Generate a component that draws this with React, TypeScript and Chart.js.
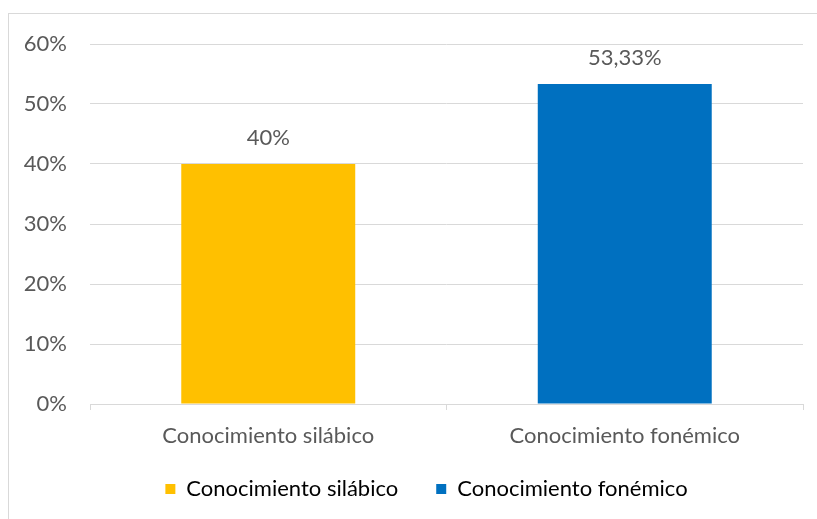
import React, { useEffect, useRef } from "react";
import { Chart, registerables } from "chart.js";

Chart.register(...registerables);

const categories = ["Conocimiento silábico", "Conocimiento fonémico"];
const values = [0.4, 0.5333];
const barColors = ["#FFC000", "#0070C0"];
const yTicks = [0, 0.1, 0.2, 0.3, 0.4, 0.5, 0.6];

const FONT = "Lato";
const FSIZE = 22;
const TEXT = "#595959";
const GRID = "#d9d9d9";

function fmtPct(v: number): string {
  const s = (Math.round(v * 10000) / 100).toString();
  return s.replace(".", ",") + "%";
}

const dataLabelPlugin = {
  id: "dataLabels",
  afterDatasetsDraw(chart: any) {
    const ctx = chart.ctx;
    const meta = chart.getDatasetMeta(0);
    ctx.save();
    ctx.font = `${FSIZE}px ${FONT}`;
    ctx.fillStyle = TEXT;
    ctx.textAlign = "center";
    ctx.textBaseline = "middle";
    meta.data.forEach((bar: any, i: number) => {
      ctx.fillText(fmtPct(values[i]), bar.x, bar.y - 26);
    });
    ctx.restore();
  },
};

const legendShiftPlugin = {
  id: "legendShift",
  afterLayout(chart: any) {
    if (chart.legend) {
      chart.legend.left = 50;
      chart.legend.top = 440;
    }
  },
};

export default function App() {
  const ref = useRef<HTMLCanvasElement | null>(null);
  useEffect(() => {
    if (!ref.current) return;
    const chart = new Chart(ref.current, {
      type: "bar",
      data: {
        labels: categories,
        datasets: [
          {
            label: "Series",
            data: values,
            backgroundColor: barColors,
            borderWidth: 0,
            categoryPercentage: 1,
            barPercentage: 0.488,
          },
        ],
      },
      options: {
        animation: false,
        responsive: false,
        layout: { padding: { top: 44, left: 0, right: 14, bottom: 0 } },
        plugins: {
          tooltip: { enabled: false },
          legend: {
            position: "bottom",
            labels: {
              boxWidth: 10,
              boxHeight: 10,
              padding: 38,
              color: TEXT,
              font: { family: FONT, size: FSIZE },
              generateLabels: () =>
                categories.map((c, i) => ({
                  text: c,
                  fillStyle: barColors[i],
                  strokeStyle: barColors[i],
                  lineWidth: 0,
                  hidden: false,
                  index: i,
                  datasetIndex: 0,
                })),
            },
          },
        },
        scales: {
          x: {
            grid: {
              offset: true,
              drawOnChartArea: false,
              drawTicks: true,
              tickLength: 6,
              color: GRID,
            },
            border: { color: GRID },
            ticks: {
              color: TEXT,
              font: { family: FONT, size: FSIZE },
              padding: 13,
            },
            afterFit: (s: any) => {
              s.height = 45;
            },
          },
          y: {
            min: 0,
            max: 0.6,
            afterBuildTicks: (s: any) => {
              s.ticks = yTicks.map((v) => ({ value: v }));
            },
            grid: { color: GRID, drawTicks: false },
            border: { display: false },
            ticks: {
              color: TEXT,
              font: { family: FONT, size: FSIZE },
              padding: 23,
              callback: (v: any) => Math.round(Number(v) * 100) + "%",
            },
            afterFit: (s: any) => {
              s.width = 90;
            },
          },
        },
      },
      plugins: [dataLabelPlugin, legendShiftPlugin],
    });
    return () => chart.destroy();
  }, []);

  return (
    <div style={{ position: "absolute", left: 0, top: 0, width: 817, height: 519, overflow: "hidden", background: "#fff" }}>
      <div
        style={{
          position: "absolute",
          left: 8,
          top: 13,
          width: 830,
          height: 530,
          border: "1px solid #d9d9d9",
          boxSizing: "border-box",
        }}
      />
      <canvas ref={ref} width={817} height={519} style={{ position: "absolute", left: 0, top: 0, width: 817, height: 519 }} />
    </div>
  );
}
